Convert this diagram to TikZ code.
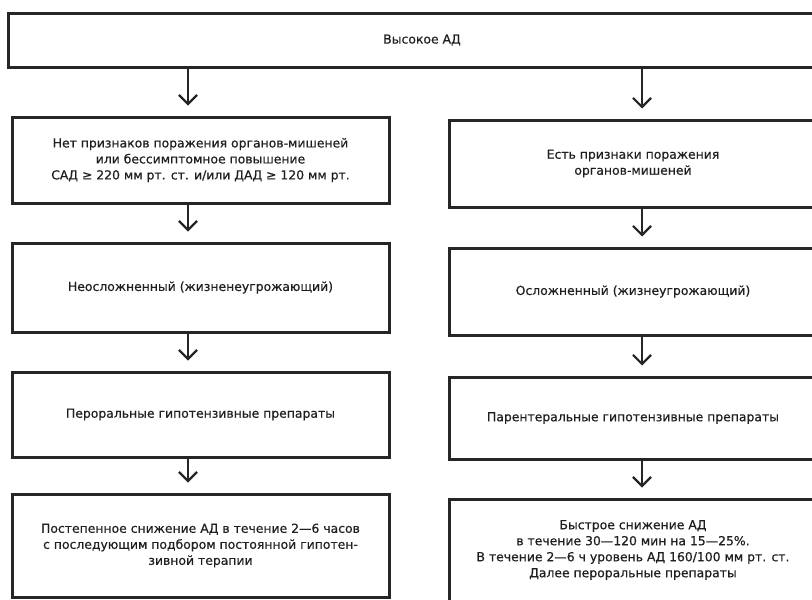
\documentclass[tikz,border=0pt]{standalone}
\usepackage{fontspec}
\setmainfont{DejaVu Sans}
\newfontfamily\boxfont[FakeBold=0.5]{DejaVu Sans}
\usetikzlibrary{arrows.meta}
\begin{document}
\begin{tikzpicture}[x=1pt,y=-1pt,
  box/.style={draw=black!85, line width=3pt, align=center, inner sep=0pt,
    text=black!88, font=\boxfont\fontsize{12.4}{16}\selectfont},
  arr/.style={draw=black!85, line width=2.2pt,
    -{Straight Barb[length=9pt,width=18pt]}, shorten >=10pt}]
\useasboundingbox (0,0) rectangle (812,600);
\clip (0,0) rectangle (812,600);
% top
\node[box, minimum width=828pt, minimum height=54pt] (top) at (422,40) {Высокое АД};
% left column
\node[box, minimum width=377pt, minimum height=86pt] (L1) at (200.5,160)
  {Нет признаков поражения органов-мишеней\\или бессимптомное повышение\\САД ≥ 220 мм рт. ст. и/или ДАД ≥ 120 мм рт.};
\node[box, minimum width=377pt, minimum height=89pt] (L2) at (200.5,287.5)
  {Неосложненный (жизненеугрожающий)};
\node[box, minimum width=377pt, minimum height=85pt] (L3) at (200.5,414.5)
  {Пероральные гипотензивные препараты};
\node[box, minimum width=377pt, minimum height=103pt] (L4) at (200.5,545.5)
  {Постепенное снижение АД в течение 2—6 часов\\с последующим подбором постоянной гипотен-\\зивной терапии};
% right column
\node[box, minimum width=368pt, minimum height=87pt] (R1) at (633,163.5)
  {Есть признаки поражения\\органов-мишеней};
\node[box, minimum width=368pt, minimum height=87pt] (R2) at (633,291.5)
  {Осложненный (жизнеугрожающий)};
\node[box, minimum width=368pt, minimum height=82pt] (R3) at (633,418)
  {Парентеральные гипотензивные препараты};
\node[box, minimum width=368pt, minimum height=102pt] (R4) at (633,550)
  {Быстрое снижение АД\\в течение 30—120 мин на 15—25\%.\\В течение 2—6 ч уровень АД 160/100 мм рт. ст.\\Далее пероральные препараты};
% arrows
\coordinate (lx) at (188,0);
\coordinate (rx) at (642,0);
\draw[arr] (top.south -| lx) -- (L1.north -| lx);
\draw[arr] (L1.south -| lx) -- (L2.north -| lx);
\draw[arr] (L2.south -| lx) -- (L3.north -| lx);
\draw[arr] (L3.south -| lx) -- (L4.north -| lx);
\draw[arr] (top.south -| rx) -- (R1.north -| rx);
\draw[arr] (R1.south -| rx) -- (R2.north -| rx);
\draw[arr] (R2.south -| rx) -- (R3.north -| rx);
\draw[arr] (R3.south -| rx) -- (R4.north -| rx);
\end{tikzpicture}
\end{document}
